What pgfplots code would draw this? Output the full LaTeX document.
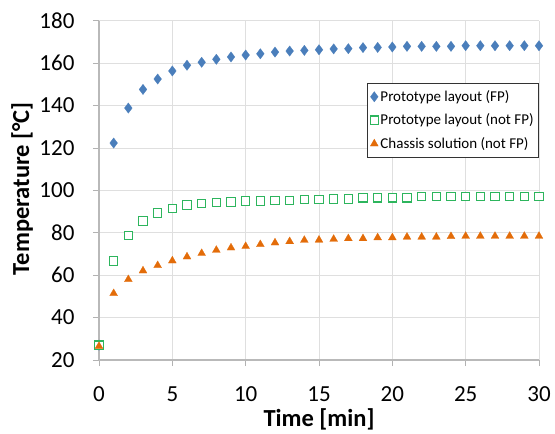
\documentclass[border=0pt]{standalone}
\usepackage{fontspec}
\setmainfont{Carlito}
\usepackage{pgfplots}
\pgfplotsset{compat=1.18}
\definecolor{cblue}{HTML}{4A7EBB}
\definecolor{cgreen}{HTML}{2DB55D}
\definecolor{corange}{HTML}{E36C09}
\begin{document}
\begin{tikzpicture}
\useasboundingbox (-99pt,-74pt) rectangle (456pt,360pt);
\begin{axis}[
 at={(0,0)}, anchor=south west,
 scale only axis, width=440pt, height=339.3pt,
 xmin=0, xmax=30, ymin=20, ymax=180,
 xtick={0,5,...,30}, ytick={20,40,...,180},
 grid=major, grid style={gray!25, line width=0.8pt},
 axis x line=bottom, axis y line=left,
 axis line style={-, gray!55, line width=1.5pt},
 tick style={gray!60, line width=0.8pt}, tick align=outside, major tick length=6pt,
 ticklabel style={font=\fontsize{23}{26}\selectfont},
 xticklabel style={yshift=-17pt},
 yticklabel style={xshift=-15pt},
 /pgf/number format/assume math mode=true,
 xlabel={Time [min]}, ylabel={Temperature [°C]},
 label style={font=\fontsize{24.5}{28}\selectfont\bfseries},
 xlabel style={at={(axis description cs:0.5,-0.174)}, anchor=center},
 ylabel style={at={(axis description cs:-0.175,0.505)}, anchor=center},
 legend style={at={(1,0.816)}, anchor=north east, font=\fontsize{15}{18}\selectfont,
   draw=black!80, line width=0.8pt, row sep=7pt, cells={anchor=west},
   inner ysep=5pt, inner xsep=3pt},
 legend image code/.code={\draw[#1] plot coordinates {(0.15cm,0cm)};},
]
\addplot[only marks, mark=diamond*, mark size=5.2pt, mark options={fill=cblue, draw=cblue, line width=0.2pt}, cblue] coordinates {
(0,27) (1,122.3) (2,138.8) (3,147.6) (4,152.5) (5,156.3) (6,159.0) (7,160.4) (8,161.8) (9,162.9) (10,163.8)
(11,164.4) (12,165.2) (13,165.7) (14,166.0) (15,166.3) (16,166.7) (17,166.8) (18,167.3) (19,167.4) (20,167.6)
(21,167.9) (22,167.9) (23,167.9) (24,167.9) (25,168.2) (26,168.2) (27,168.2) (28,168.2) (29,168.2) (30,168.2)};
\addlegendentry{Prototype layout (FP)}
\addplot[only marks, mark=square*, mark size=4.2pt, mark options={draw=cgreen, fill=white, line width=1.1pt}, cgreen] coordinates {
(0,27) (1,66.7) (2,78.6) (3,85.5) (4,89.3) (5,91.5) (6,93.1) (7,93.7) (8,94.2) (9,94.5) (10,95.0)
(11,95.0) (12,95.3) (13,95.3) (14,95.7) (15,95.7) (16,95.9) (17,95.9) (18,96.5) (19,96.5) (20,96.5)
(21,96.5) (22,97.0) (23,97.0) (24,97.0) (25,97.0) (26,97.0) (27,97.0) (28,97.0) (29,97.0) (30,97.0)};
\addlegendentry{Prototype layout (not FP)}
\addplot[only marks, mark=triangle*, mark size=4.6pt, mark options={fill=corange, draw=corange, line width=0.2pt}, corange] coordinates {
(0,26.5) (1,51.4) (2,58.0) (3,62.1) (4,64.6) (5,66.8) (6,68.7) (7,70.3) (8,71.8) (9,72.9) (10,73.6)
(11,74.5) (12,75.3) (13,75.9) (14,76.5) (15,76.6) (16,77.0) (17,77.3) (18,77.3) (19,77.7) (20,77.7)
(21,78.0) (22,78.0) (23,78.0) (24,78.3) (25,78.4) (26,78.4) (27,78.4) (28,78.4) (29,78.4) (30,78.4)};
\addlegendentry{Chassis solution (not FP)}
\end{axis}
\end{tikzpicture}
\end{document}
